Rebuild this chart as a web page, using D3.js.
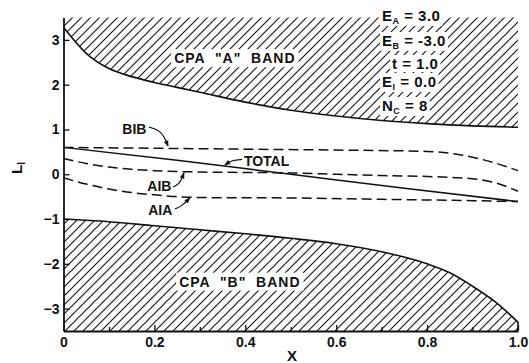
<!DOCTYPE html>
<html>
<head>
<meta charset="utf-8">
<script src="https://cdn.jsdelivr.net/npm/d3@7"></script>
<style>
	body { margin: 0; background: #fff; }
	text { font-family: "Liberation Sans", Arial, sans-serif; font-weight: bold; fill: #111; }
</style>
</head>
<body>
<div id="main-view"></div>
<script>
// x values shared by the curves
var bandAX = [0, 0.05, 0.1, 0.15, 0.2, 0.25, 0.3, 0.4, 0.5, 0.6, 0.7, 0.8, 0.9, 1.0]
var bandA  = [3.28, 2.7, 2.36, 2.18, 2.05, 1.94, 1.83, 1.61, 1.43, 1.3, 1.2, 1.13, 1.08, 1.05]

var bandBX = [0, 0.1, 0.2, 0.3, 0.4, 0.5, 0.6, 0.7, 0.8, 0.85, 0.9, 0.95, 1.0]
var bandB  = [-1.0, -1.06, -1.15, -1.24, -1.33, -1.43, -1.55, -1.73, -2.0, -2.2, -2.5, -2.85, -3.3]

var totalX = [0, 0.25, 0.5, 0.75, 1.0]
var total  = [0.6, 0.31, 0.0, -0.31, -0.61]

var bibX = [0, 0.2, 0.4, 0.6, 0.8, 0.85, 0.9, 0.95, 1.0]
var bib  = [0.6, 0.58, 0.56, 0.54, 0.51, 0.47, 0.38, 0.25, 0.08]

var aibX = [0, 0.05, 0.1, 0.15, 0.2, 0.3, 0.4, 0.5, 0.6, 0.7, 0.8, 0.85, 0.9, 0.95, 1.0]
var aib  = [0.35, 0.24, 0.16, 0.11, 0.08, 0.05, 0.04, 0.03, 0.0, -0.03, -0.05, -0.07, -0.1, -0.19, -0.38]

var aiaX = [0, 0.05, 0.1, 0.15, 0.2, 0.25, 0.3, 0.5, 0.7, 0.9, 1.0]
var aia  = [-0.08, -0.22, -0.33, -0.41, -0.46, -0.5, -0.52, -0.53, -0.56, -0.59, -0.61]

var xTicks = [0, 0.2, 0.4, 0.6, 0.8, 1.0]
var xTickLabels = ["0", "0.2", "0.4", "0.6", "0.8", "1.0"]
var xMinorTicks = [0.1, 0.3, 0.5, 0.7, 0.9]
var yTicks = [-3, -2, -1, 0, 1, 2, 3]

// parameter box, top right
var paramNames = ["E", "E", "t", "E", "N"]
var paramSubs  = ["A", "B", "", "I", "C"]
var paramVals  = ["3.0", "-3.0", "1.0", "0.0", "8"]

// curve labels (data units) and their arrows
var labelNames = ["BIB", "TOTAL", "AIB", "AIA"]
var labelPos = [[0.156, 1.0], [0.397, 0.295], [0.211, -0.273], [0.213, -0.797]]
var labelAnchor = ["middle", "start", "middle", "middle"]
var arrowPts = [
	[[0.188, 1.053], [0.217, 0.964], [0.230, 0.63]],
	[[0.393, 0.329], [0.371, 0.318], [0.355, 0.206]],
	[[0.241, -0.284], [0.256, -0.217], [0.265, 0.028]],
	[[0.245, -0.775], [0.261, -0.708], [0.278, -0.529]]
]

var width = 529,
	height = 363;

var svg = d3.select("#main-view").append("svg")
	.attr("width", width)
	.attr("height", height)

var x = d3.scaleLinear().domain([0, 1]).range([63.5, 518])
var y = d3.scaleLinear().domain([-3.5, 3.5]).range([331, 17.5])

var defs = svg.append("defs")
defs.append("pattern")
	.attr("id", "hatch")
	.attr("patternUnits", "userSpaceOnUse")
	.attr("width", 9)
	.attr("height", 9)
	.append("path")
	.attr("d", "M-1,1 l2,-2 M0,9 l9,-9 M8,10 l2,-2")
	.attr("stroke", "#111")
	.attr("stroke-width", 1.1)

defs.append("marker")
	.attr("id", "arrow")
	.attr("viewBox", "0 0 10 10")
	.attr("refX", 9)
	.attr("refY", 5)
	.attr("markerUnits", "userSpaceOnUse")
	.attr("markerWidth", 7)
	.attr("markerHeight", 6)
	.attr("orient", "auto")
	.append("path")
	.attr("d", "M0,1 L10,5 L0,9 z")
	.attr("fill", "#111")

function zip(xs, vs) {
	return xs.map(function(d, i) { return [d, vs[i]]; })
}

var line = d3.line()
	.x(function(d) { return x(d[0]); })
	.y(function(d) { return y(d[1]); })
	.curve(d3.curveMonotoneX)

// CPA bands
var areaA = d3.area()
	.x(function(d) { return x(d[0]); })
	.y0(y(3.5))
	.y1(function(d) { return y(d[1]); })
	.curve(d3.curveMonotoneX)
var areaB = d3.area()
	.x(function(d) { return x(d[0]); })
	.y0(y(-3.5))
	.y1(function(d) { return y(d[1]); })
	.curve(d3.curveMonotoneX)

svg.append("path").attr("d", areaA(zip(bandAX, bandA))).attr("fill", "url(#hatch)")
svg.append("path").attr("d", areaB(zip(bandBX, bandB))).attr("fill", "url(#hatch)")

svg.append("path").attr("d", line(zip(bandAX, bandA)))
	.attr("fill", "none").attr("stroke", "#111").attr("stroke-width", 1.6)
svg.append("path").attr("d", line(zip(bandBX, bandB)) + "L" + x(1) + "," + y(-3.5))
	.attr("fill", "none").attr("stroke", "#111").attr("stroke-width", 1.6)

// curves
svg.append("path").attr("d", line(zip(totalX, total)))
	.attr("fill", "none").attr("stroke", "#111").attr("stroke-width", 1.5)

;[[bibX, bib], [aibX, aib], [aiaX, aia]].forEach(function(s) {
	svg.append("path").attr("d", line(zip(s[0], s[1])))
		.attr("fill", "none")
		.attr("stroke", "#111")
		.attr("stroke-width", 1.5)
		.attr("stroke-dasharray", "10,5")
})

// white-backed text helper
function boxedText(g, pad) {
	var bb = g.node().getBBox()
	g.insert("rect", ":first-child")
		.attr("x", bb.x - pad).attr("y", bb.y - pad + 2)
		.attr("width", bb.width + 2 * pad).attr("height", bb.height + 2 * pad - 4)
		.attr("fill", "#fff")
}

var bandLabels = [["CPA \u00a0\"A\"\u00a0 BAND", 0.377, 2.59], ["CPA \u00a0\"B\"\u00a0 BAND", 0.388, -2.40]]
bandLabels.forEach(function(b) {
	var g = svg.append("g")
	g.append("text")
		.attr("x", x(b[1])).attr("y", y(b[2]))
		.attr("dy", "0.35em")
		.attr("text-anchor", "middle")
		.style("font-size", "14px")
		.style("letter-spacing", "1px")
		.text(b[0])
	boxedText(g, 3)
})

// parameter block
paramNames.forEach(function(n, i) {
	var g = svg.append("g")
	var t = g.append("text")
		.attr("x", n == "t" ? 392 : 382)
		.attr("y", [21, 46, 69, 87, 111][i])
		.style("font-size", "15px")
		.style("letter-spacing", "0.5px")
	t.append("tspan").text(n)
	if (paramSubs[i]) {
		t.append("tspan").attr("dy", 3).style("font-size", "9px").text(paramSubs[i])
		t.append("tspan").attr("dy", -3).text(" = " + paramVals[i])
	} else {
		t.append("tspan").text(" = " + paramVals[i])
	}
	boxedText(g, 2)
})

// curve labels and arrows
labelNames.forEach(function(n, i) {
	svg.append("text")
		.attr("x", x(labelPos[i][0])).attr("y", y(labelPos[i][1]))
		.attr("dy", "0.35em")
		.attr("text-anchor", labelAnchor[i])
		.style("font-size", "14px")
		.text(n)
	svg.append("path")
		.attr("d", d3.line()
			.x(function(d) { return x(d[0]); })
			.y(function(d) { return y(d[1]); })
			.curve(d3.curveBasis)(arrowPts[i]))
		.attr("fill", "none")
		.attr("stroke", "#111")
		.attr("stroke-width", 1.2)
		.attr("marker-end", "url(#arrow)")
})

// axes, ticks pointing inward
svg.append("g")
	.attr("transform", "translate(0," + y(-3.5) + ")")
	.call(d3.axisBottom(x).tickValues(xTicks)
		.tickFormat(function(d, i) { return xTickLabels[i]; })
		.tickSizeInner(-6).tickSizeOuter(0).tickPadding(6))
svg.append("g")
	.attr("transform", "translate(0," + y(-3.5) + ")")
	.call(d3.axisBottom(x).tickValues(xMinorTicks).tickFormat("")
		.tickSizeInner(-4).tickSizeOuter(0))
	.select(".domain").remove()

svg.append("g")
	.attr("transform", "translate(" + x(0) + ",0)")
	.call(d3.axisLeft(y).tickValues(yTicks)
		.tickFormat(d3.format("d"))
		.tickSizeInner(-6).tickSizeOuter(0).tickPadding(4))

svg.selectAll(".domain").attr("stroke", "#111").attr("stroke-width", 1.8)
svg.selectAll(".tick line").attr("stroke", "#111").attr("stroke-width", 1.3)
svg.selectAll(".tick text")
	.style("font-family", "'Liberation Sans', Arial, sans-serif")
	.style("font-weight", "bold")
	.style("font-size", "14px")
	.attr("fill", "#111")

// axis titles
svg.append("text")
	.attr("x", 292).attr("y", 361)
	.attr("text-anchor", "middle")
	.style("font-size", "15px")
	.text("X")

var ly = svg.append("text")
	.attr("transform", "translate(22,168) rotate(-90)")
	.attr("text-anchor", "middle")
	.style("font-size", "15px")
ly.append("tspan").text("L")
ly.append("tspan").attr("dy", 3).style("font-size", "10px").text("I")
</script>
</body>
</html>
